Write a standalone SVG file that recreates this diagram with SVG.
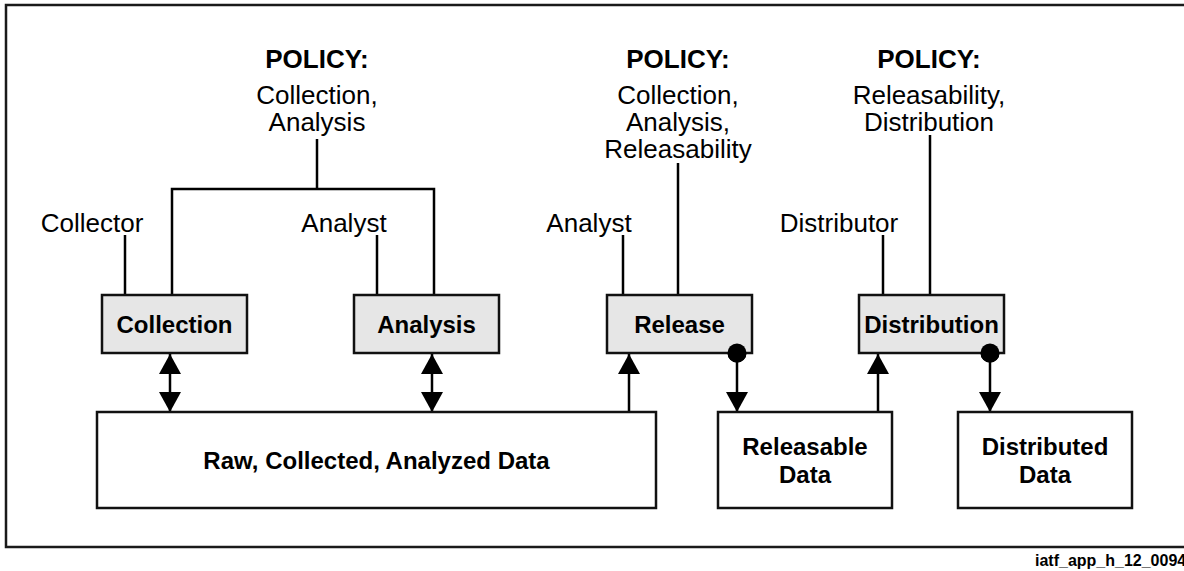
<svg xmlns="http://www.w3.org/2000/svg" width="1184" height="571" viewBox="0 0 1184 571">
<style>
.frame{fill:none;stroke:#1a1a1a;stroke-width:2.5}
.proc{fill:#e6e6e6;stroke:#111;stroke-width:2.5}
.data{fill:#fff;stroke:#111;stroke-width:2.5}
.ln{fill:none;stroke:#000;stroke-width:2.5}
.t{font-family:"Liberation Sans",Arial,sans-serif;font-size:26px;fill:#000;text-anchor:middle}
.b{font-family:"Liberation Sans",Arial,sans-serif;font-size:24px;font-weight:bold;fill:#000;text-anchor:middle}
.p{font-weight:bold}
.foot{font-family:"Liberation Sans",Arial,sans-serif;font-size:16px;font-weight:bold;fill:#000}
</style>
<defs>
<marker id="ah" markerUnits="userSpaceOnUse" markerWidth="21" markerHeight="22" viewBox="0 0 20 22" refX="20" refY="11" orient="auto-start-reverse">
<path d="M0,0 L20,11 L0,22 z" fill="#000"/>
</marker>
<marker id="dot" markerUnits="userSpaceOnUse" markerWidth="20" markerHeight="20" viewBox="0 0 20 20" refX="10" refY="10" orient="auto">
<circle cx="10" cy="10" r="9.5" fill="#000"/>
</marker>
</defs>
<rect width="1184" height="571" fill="#fff"/>
<rect class="frame" x="6" y="5" width="1190" height="542"/>

<g id="policy1">
<text class="t p" x="317" y="68">POLICY:</text>
<text class="t" x="317" y="104">Collection,</text>
<text class="t" x="317" y="131">Analysis</text>
</g>
<g id="policy2">
<text class="t p" x="678" y="68">POLICY:</text>
<text class="t" x="678" y="104">Collection,</text>
<text class="t" x="678" y="131">Analysis,</text>
<text class="t" x="678" y="158">Releasability</text>
</g>
<g id="policy3">
<text class="t p" x="929" y="68">POLICY:</text>
<text class="t" x="929" y="104">Releasability,</text>
<text class="t" x="929" y="131">Distribution</text>
</g>
<g id="collector"><text class="t" x="92" y="232">Collector</text></g>
<g id="analyst1"><text class="t" x="344" y="232">Analyst</text></g>
<g id="analyst2"><text class="t" x="589" y="232">Analyst</text></g>
<g id="distributor"><text class="t" x="839" y="232">Distributor</text></g>

<g id="connectors">
<path class="ln" d="M125,235 V295"/>
<path class="ln" d="M172,295 V189 H434 V295"/>
<path class="ln" d="M317,139 V189"/>
<path class="ln" d="M377,235 V295"/>
<path class="ln" d="M623,235 V295"/>
<path class="ln" d="M678,163 V295"/>
<path class="ln" d="M883,235 V295"/>
<path class="ln" d="M930,135 V295"/>
<line class="ln" x1="170" y1="354" x2="170" y2="412" marker-start="url(#ah)" marker-end="url(#ah)"/>
<line class="ln" x1="432" y1="354" x2="432" y2="412" marker-start="url(#ah)" marker-end="url(#ah)"/>
<line class="ln" x1="629" y1="412" x2="629" y2="354" marker-end="url(#ah)"/>
<line class="ln" x1="737" y1="353" x2="737" y2="412" marker-start="url(#dot)" marker-end="url(#ah)"/>
<line class="ln" x1="878" y1="412" x2="878" y2="354" marker-end="url(#ah)"/>
<line class="ln" x1="990" y1="353" x2="990" y2="412" marker-start="url(#dot)" marker-end="url(#ah)"/>
</g>

<g id="collection">
<rect class="proc" x="102" y="295" width="145" height="58"/>
<text class="b" x="174.5" y="333">Collection</text>
</g>
<g id="analysis">
<rect class="proc" x="354" y="295" width="145" height="58"/>
<text class="b" x="426.5" y="333">Analysis</text>
</g>
<g id="release">
<rect class="proc" x="607" y="295" width="145" height="58"/>
<text class="b" x="679.5" y="333">Release</text>
</g>
<g id="distribution">
<rect class="proc" x="859" y="295" width="145" height="58"/>
<text class="b" x="931.5" y="333">Distribution</text>
</g>
<g id="rawdata">
<rect class="data" x="97" y="412" width="559" height="96"/>
<text class="b" x="376.5" y="469">Raw, Collected, Analyzed Data</text>
</g>
<g id="releasabledata">
<rect class="data" x="718" y="412" width="174" height="96"/>
<text class="b" x="805" y="455">Releasable</text>
<text class="b" x="805" y="483">Data</text>
</g>
<g id="distributeddata">
<rect class="data" x="958" y="412" width="174" height="96"/>
<text class="b" x="1045" y="455">Distributed</text>
<text class="b" x="1045" y="483">Data</text>
</g>
<g id="dots">
<circle cx="737" cy="353" r="9.5" fill="#000"/>
<circle cx="990" cy="353" r="9.5" fill="#000"/>
</g>
<text class="foot" x="1035" y="566">iatf_app_h_12_0094</text>
</svg>
